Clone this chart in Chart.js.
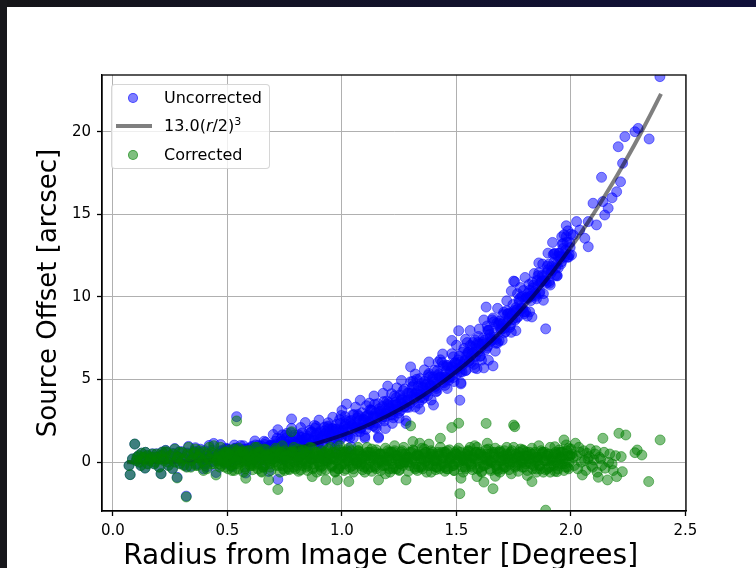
<!DOCTYPE html>
<html>
<head>
<meta charset="utf-8">
<script src="https://cdn.jsdelivr.net/npm/chart.js@4.4.1/dist/chart.umd.min.js"></script>
<style>
  html, body { margin: 0; padding: 0; background: #fff; overflow: hidden; }
  #page { position: relative; width: 756px; height: 568px; overflow: hidden; background: #fff; }
  #topbar { position: absolute; left: 0; top: 0; width: 756px; height: 7px; background: linear-gradient(to right, #151518, #10103a); z-index: 3; }
  #leftbar { position: absolute; left: 0; top: 0; width: 7px; height: 568px; background: #17171b; z-index: 3; }
  #chart { position: absolute; left: 0; top: 0; }
  #legend {
    position: absolute; left: 111px; top: 84px; width: 159px; height: 85px;
    background: rgba(255,255,255,0.8); border: 1px solid rgba(204,204,204,0.8);
    border-radius: 4px; box-sizing: border-box;
    font-family: 'DejaVu Sans', sans-serif; font-size: 16px; color: #000;
  }
  #legend .row { position: absolute; left: 0; width: 100%; height: 20px; }
  #legend .dot { position: absolute; left: 16px; top: 5px; width: 10px; height: 10px; border-radius: 50%; box-sizing: border-box; }
  #legend .bar { position: absolute; left: 4px; top: 8px; width: 36px; height: 4px; background: rgba(0,0,0,0.5); }
  #legend .txt { position: absolute; left: 52px; top: 0; line-height: 20px; white-space: nowrap; }
  #legend sup { font-size: 11px; vertical-align: 6px; line-height: 0; }
</style>
</head>
<body>
<div id="page">
  <canvas id="chart" width="756" height="580"></canvas>
  <div id="legend"></div>
  <div id="topbar"></div>
  <div id="leftbar"></div>
</div>
<script>
// corrected source offsets [radius deg, offset arcsec]
const corrected = [
  [0.07,-0.2],[0.075,-0.75],[0.085,0.2],[0.095,1.1],[0.105,0.3],[0.115,0.0],[0.125,0.55],[0.135,0.2],[0.14,-0.35],[0.15,0.4],
  [0.16,0.1],[0.17,0.3],[0.18,-0.1],[0.19,0.5],[0.2,0.2],[0.21,-0.7],[0.215,0.6],[0.22,0.2],[0.23,0.7],[0.24,0.0],
  [0.25,0.4],[0.26,-0.4],[0.27,0.8],[0.28,-0.95],[0.285,0.3],[0.29,0.6],[0.3,0.1],[0.31,-0.2],[0.32,-2.1],[0.325,0.5],
  [0.33,0.9],[0.34,-0.3],[0.35,0.2],[0.355,0.6],[0.36,0.8],[0.37,-0.2],[0.375,0.3],[0.38,0.5],[0.39,0.0],[0.395,-0.5],
  [0.4,0.6],[0.41,-0.4],[0.415,0.2],[0.42,0.9],[0.43,-0.1],[0.435,0.4],[0.44,1.0],
  [0.102,0.1],[0.112,0.4],[0.122,-0.2],[0.132,0.3],[0.142,0.6],[0.152,-0.1],[0.162,0.2],[0.172,0.5],[0.182,0.0],[0.192,0.3],
  [0.202,-0.3],[0.212,0.4],[0.222,0.1],[0.232,0.6],[0.242,-0.2],[0.252,0.2],[0.262,0.5],[0.272,0.0],[0.282,0.3],[0.292,-0.1],
  [0.302,0.6],[0.312,0.2],[0.322,-0.3],[0.332,0.4],[0.342,0.1],[0.352,0.5],[0.362,-0.2],[0.372,0.3],[0.382,0.7],[0.392,0.1],
  [0.402,-0.2],[0.412,0.4],[0.422,0.2],[0.432,0.6],[0.442,-0.1],
  [0.45,-0.77],[0.46,0.3],[0.47,0.9],[0.48,0.1],[0.49,-0.3],[0.5,0.6],[0.51,0.2],[0.52,-0.5],[0.53,0.8],[0.54,2.5],
  [0.55,0.4],[0.56,0.0],[0.57,0.7],[0.58,-0.97],[0.59,0.5],[0.6,-0.2],[0.61,0.3],[0.62,0.9],[0.63,-0.1],[0.64,0.4],
  [0.65,-0.6],[0.66,0.8],[0.67,0.1],[0.68,-1.07],[0.69,0.5],[0.7,0.2],[0.71,0.7],[0.72,-1.65],[0.73,0.4],[0.74,1.0],
  [0.75,-0.5],[0.76,0.0],[0.77,0.6],[0.78,1.85],[0.79,-0.3],[0.8,0.3],[0.81,0.8],[0.82,-0.47],[0.83,0.1],[0.84,0.5],
  [0.85,-0.2],[0.86,0.9],[0.87,-0.87],[0.88,0.2],[0.89,0.6],[0.9,0.0],[0.91,-0.5],[0.92,0.4],[0.93,-1.07],[0.94,0.8],
  [0.95,0.2],[0.96,0.6],[0.97,-0.6],[0.98,-1.07],[0.99,1.0],[1.0,-0.1],[1.01,0.5],[1.02,0.3],[1.03,-1.17],[1.04,0.7],
  [1.05,-0.4],[1.06,0.1],[1.07,0.9],[1.08,-0.2],[1.09,0.4],[1.1,-0.6],[1.11,0.6],[1.12,0.0],[1.13,0.8],[1.14,0.3],
  [1.15,-0.4],[1.16,-1.07],[1.17,0.5],[1.18,0.1],[1.19,-0.7],[1.2,0.7],[1.21,0.2],[1.22,-0.1],[1.23,1.0],[1.24,0.4],
  [1.25,-0.5],[1.26,0.6],[1.27,0.0],[1.28,-1.07],[1.29,0.3],[1.3,2.2],[1.31,1.25],[1.32,-0.4],[1.33,0.5],[1.34,1.15],
  [1.35,-0.2],[1.36,0.8],[1.37,0.1],[1.38,1.1],[1.39,-0.6],[1.4,0.4],[1.41,-0.3],[1.42,0.6],[1.43,1.45],[1.44,0.0],
  [1.45,-0.3],[1.46,0.7],[1.47,0.2],[1.48,2.1],[1.49,-0.5],[1.5,0.5],[1.51,2.36],[1.515,-1.9],[1.52,-0.97],[1.53,0.1],
  [1.54,-0.4],[1.55,0.6],[1.56,0.9],[1.57,0.3],[1.58,1.0],[1.59,-0.87],[1.6,0.5],[1.61,-0.6],[1.62,-1.2],[1.63,2.35],
  [1.635,1.15],[1.64,0.8],[1.65,0.0],[1.66,-1.6],[1.67,-0.85],[1.68,-0.5],[1.69,0.7],[1.7,0.1],[1.71,-0.3],[1.72,0.9],
  [1.73,0.3],[1.74,-0.7],[1.75,2.25],[1.755,2.15],[1.76,0.5],[1.77,-0.2],[1.78,0.8],[1.79,0.0],[1.8,0.4],[1.81,-0.8],
  [1.82,0.6],[1.83,-1.17],[1.84,0.2],[1.85,-0.4],[1.86,1.0],[1.87,0.3],[1.88,-0.6],[1.89,-2.9],[1.9,0.5],[1.91,-0.6],
  [1.92,0.1],[1.93,0.94],[1.94,-0.57],[1.95,0.6],[1.96,-0.1],[1.97,1.35],[1.98,1.05],[1.99,-0.4],[2.0,0.8],
  [0.455,0.2],[0.465,-0.1],[0.475,0.4],[0.485,0.0],[0.495,0.5],[0.505,0.1],[0.515,-0.2],[0.525,0.3],[0.535,0.6],[0.545,-0.1],
  [0.555,0.2],[0.565,0.5],[0.575,-0.3],[0.585,0.1],[0.595,0.4],[0.605,0.0],[0.615,-0.2],[0.625,0.3],[0.635,0.6],[0.645,0.1],
  [0.655,-0.3],[0.665,0.4],[0.675,0.2],[0.685,-0.1],[0.695,0.5],[0.705,0.0],[0.715,0.3],[0.725,-0.2],[0.735,0.6],[0.745,0.1],
  [0.755,0.4],[0.765,-0.3],[0.775,0.2],[0.785,0.5],[0.795,0.0],[0.805,-0.2],[0.815,0.3],[0.825,0.6],[0.835,0.1],[0.845,-0.3],
  [0.855,0.4],[0.865,0.2],[0.875,-0.1],[0.885,0.5],[0.895,0.0],[0.905,0.3],[0.915,-0.2],[0.925,0.6],[0.935,0.1],[0.945,0.4],
  [0.955,-0.3],[0.965,0.2],[0.975,0.5],[0.985,0.0],[0.995,-0.2],[1.005,0.3],[1.015,0.6],[1.025,0.1],[1.035,-0.3],[1.045,0.4],
  [1.055,0.2],[1.065,-0.1],[1.075,0.5],[1.085,0.0],[1.095,0.3],[1.105,-0.2],[1.115,0.6],[1.125,0.1],[1.135,0.4],[1.145,-0.3],
  [1.155,0.2],[1.165,0.5],[1.175,0.0],[1.185,-0.2],[1.195,0.3],[1.205,0.6],[1.215,0.1],[1.225,-0.3],[1.235,0.4],[1.245,0.2],
  [1.255,-0.1],[1.265,0.5],[1.275,0.0],[1.285,0.3],[1.295,-0.2],[1.305,0.6],[1.315,0.1],[1.325,0.4],[1.335,-0.3],[1.345,0.2],
  [1.355,0.5],[1.365,0.0],[1.375,-0.2],[1.385,0.3],[1.395,0.6],[1.405,0.1],[1.415,-0.3],[1.425,0.4],[1.435,0.2],[1.445,-0.1],
  [1.455,0.5],[1.465,0.0],[1.475,0.3],[1.485,-0.2],[1.495,0.6],[1.505,0.1],[1.515,0.4],[1.525,-0.3],[1.535,0.2],[1.545,0.5],
  [1.555,0.0],[1.565,-0.2],[1.575,0.3],[1.585,0.6],[1.595,0.1],[1.605,-0.3],[1.615,0.4],[1.625,0.2],[1.637,-0.1],[1.645,0.5],
  [1.655,0.0],[1.665,0.3],[1.675,-0.2],[1.685,0.6],[1.695,0.1],[1.705,0.4],[1.715,-0.3],[1.725,0.2],[1.735,0.5],[1.745,0.0],
  [1.757,-0.2],[1.765,0.3],[1.775,0.6],[1.785,0.1],[1.795,-0.3],[1.805,0.4],[1.815,0.2],[1.825,-0.1],[1.835,0.5],[1.845,0.0],
  [1.855,0.3],[1.865,-0.2],[1.875,0.6],[1.885,0.1],[1.895,0.4],[1.905,-0.3],[1.915,0.2],[1.925,0.5],[1.935,0.0],[1.945,-0.2],
  [1.955,0.3],[1.965,0.6],[1.975,0.1],[1.985,-0.3],[1.995,0.4],
  [0.453,0.1],[0.463,0.5],[0.473,-0.2],[0.483,0.3],[0.493,0.6],[0.503,-0.4],[0.513,0.2],[0.523,0.4],[0.533,-0.1],[0.543,0.7],[0.553,0.0],[0.563,0.3],
  [0.573,0.3],[0.583,0.0],[0.593,0.7],[0.603,-0.1],[0.613,0.4],[0.623,0.2],[0.633,-0.4],[0.643,0.6],[0.653,0.3],[0.663,-0.2],[0.673,0.5],[0.683,0.1],
  [0.693,0.1],[0.703,0.5],[0.713,-0.2],[0.723,0.3],[0.733,0.6],[0.743,-0.4],[0.753,0.2],[0.763,0.4],[0.773,-0.1],[0.783,0.7],[0.793,0.0],[0.803,0.3],
  [0.813,0.3],[0.823,0.0],[0.833,0.7],[0.843,-0.1],[0.853,0.4],[0.863,0.2],[0.873,-0.4],[0.883,0.6],[0.893,0.3],[0.903,-0.2],[0.913,0.5],[0.923,0.1],
  [0.933,0.1],[0.943,0.5],[0.953,-0.2],[0.963,0.3],[0.973,0.6],[0.983,-0.4],[0.993,0.2],[1.003,0.4],[1.013,-0.1],[1.023,0.7],[1.033,0.0],[1.043,0.3],
  [1.053,0.3],[1.063,0.0],[1.073,0.7],[1.083,-0.1],[1.093,0.4],[1.103,0.2],[1.113,-0.4],[1.123,0.6],[1.133,0.3],[1.143,-0.2],[1.153,0.5],[1.163,0.1],
  [1.173,0.1],[1.183,0.5],[1.193,-0.2],[1.203,0.3],[1.213,0.6],[1.223,-0.4],[1.233,0.2],[1.243,0.4],[1.253,-0.1],[1.263,0.7],[1.273,0.0],[1.283,0.3],
  [1.293,0.3],[1.303,0.0],[1.313,0.7],[1.323,-0.1],[1.333,0.4],[1.343,0.2],[1.353,-0.4],[1.363,0.6],[1.373,0.3],[1.383,-0.2],[1.393,0.5],[1.403,0.1],
  [1.413,0.1],[1.423,0.5],[1.433,-0.2],[1.443,0.3],[1.453,0.6],[1.463,-0.4],[1.473,0.2],[1.483,0.4],[1.493,-0.1],[1.503,0.7],[1.513,0.0],[1.523,0.3],
  [1.533,0.3],[1.543,0.0],[1.553,0.7],[1.563,-0.1],[1.573,0.4],[1.583,0.2],[1.593,-0.4],[1.603,0.6],[1.613,0.3],[1.623,-0.2],[1.633,0.5],[1.643,0.1],
  [1.653,0.1],[1.663,0.5],[1.673,-0.2],[1.683,0.3],[1.693,0.6],[1.703,-0.4],[1.713,0.2],[1.723,0.4],[1.733,-0.1],[1.743,0.7],[1.753,0.0],[1.763,0.3],
  [1.773,0.3],[1.783,0.0],[1.793,0.7],[1.803,-0.1],[1.813,0.4],[1.823,0.2],[1.833,-0.4],[1.843,0.6],[1.853,0.3],[1.863,-0.2],[1.873,0.5],[1.883,0.1],
  [1.893,0.1],[1.903,0.5],[1.913,-0.2],[1.923,0.3],[1.933,0.6],[1.943,-0.4],[1.953,0.2],[1.963,0.4],[1.973,-0.1],[1.983,0.7],[1.993,0.0],
  [0.457,0.4],[0.467,-0.3],[0.477,0.2],[0.487,0.6],[0.497,0.0],[0.507,0.5],[0.517,-0.2],[0.527,0.3],[0.537,0.1],[0.547,-0.4],[0.557,0.6],
  [0.567,0.6],[0.577,-0.4],[0.587,0.1],[0.597,0.3],[0.607,-0.2],[0.617,0.5],[0.627,0.0],[0.637,0.6],[0.647,0.2],[0.657,-0.3],[0.667,0.4],
  [0.677,0.4],[0.687,-0.3],[0.697,0.2],[0.707,0.6],[0.717,0.0],[0.727,0.5],[0.737,-0.2],[0.747,0.3],[0.757,0.1],[0.767,-0.4],[0.777,0.6],
  [0.787,0.6],[0.797,-0.4],[0.807,0.1],[0.817,0.3],[0.827,-0.2],[0.837,0.5],[0.847,0.0],[0.857,0.6],[0.867,0.2],[0.877,-0.3],[0.887,0.4],
  [0.897,0.4],[0.907,-0.3],[0.917,0.2],[0.927,0.6],[0.937,0.0],[0.947,0.5],[0.957,-0.2],[0.967,0.3],[0.977,0.1],[0.987,-0.4],[0.997,0.6],
  [1.007,0.6],[1.017,-0.4],[1.027,0.1],[1.037,0.3],[1.047,-0.2],[1.057,0.5],[1.067,0.0],[1.077,0.6],[1.087,0.2],[1.097,-0.3],[1.107,0.4],
  [1.117,0.4],[1.127,-0.3],[1.137,0.2],[1.147,0.6],[1.157,0.0],[1.167,0.5],[1.177,-0.2],[1.187,0.3],[1.197,0.1],[1.207,-0.4],[1.217,0.6],
  [1.227,0.6],[1.237,-0.4],[1.247,0.1],[1.257,0.3],[1.267,-0.2],[1.277,0.5],[1.287,0.0],[1.297,0.6],[1.307,0.2],[1.317,-0.3],[1.327,0.4],
  [1.337,0.4],[1.347,-0.3],[1.357,0.2],[1.367,0.6],[1.377,0.0],[1.387,0.5],[1.397,-0.2],[1.407,0.3],[1.417,0.1],[1.427,-0.4],[1.437,0.6],
  [1.447,0.6],[1.457,-0.4],[1.467,0.1],[1.477,0.3],[1.487,-0.2],[1.497,0.5],[1.507,0.0],[1.517,0.6],[1.527,0.2],[1.537,-0.3],[1.547,0.4],
  [1.557,0.4],[1.567,-0.3],[1.577,0.2],[1.587,0.6],[1.597,0.0],[1.607,0.5],[1.617,-0.2],[1.627,0.3],[1.637,0.1],[1.647,-0.4],[1.657,0.6],
  [1.667,0.6],[1.677,-0.4],[1.687,0.1],[1.697,0.3],[1.707,-0.2],[1.717,0.5],[1.727,0.0],[1.737,0.6],[1.747,0.2],[1.757,-0.3],[1.767,0.4],
  [1.777,0.4],[1.787,-0.3],[1.797,0.2],[1.807,0.6],[1.817,0.0],[1.827,0.5],[1.837,-0.2],[1.847,0.3],[1.857,0.1],[1.867,-0.4],[1.877,0.6],
  [1.887,0.6],[1.897,-0.4],[1.907,0.1],[1.917,0.3],[1.927,-0.2],[1.937,0.5],[1.947,0.0],[1.957,0.6],[1.967,0.2],[1.977,-0.3],[1.987,0.4],
  [1.997,0.4],
  [0.51,0.75],[0.53,-0.5],[0.55,0.85],[0.57,-0.6],[0.59,0.7],[0.61,-0.45],[0.63,0.9],[0.65,-0.55],
  [0.67,0.75],[0.69,-0.5],[0.71,0.85],[0.73,-0.6],[0.75,0.7],[0.77,-0.45],[0.79,0.9],[0.81,-0.55],
  [0.83,0.75],[0.85,-0.5],[0.87,0.85],[0.89,-0.6],[0.91,0.7],[0.93,-0.45],[0.95,0.9],[0.97,-0.55],
  [0.99,0.75],[1.01,-0.5],[1.03,0.85],[1.05,-0.6],[1.07,0.7],[1.09,-0.45],[1.11,0.9],[1.13,-0.55],
  [1.15,0.75],[1.17,-0.5],[1.19,0.85],[1.21,-0.6],[1.23,0.7],[1.25,-0.45],[1.27,0.9],[1.29,-0.55],
  [1.31,0.75],[1.33,-0.5],[1.35,0.85],[1.37,-0.6],[1.39,0.7],[1.41,-0.45],[1.43,0.9],[1.45,-0.55],
  [1.47,0.75],[1.49,-0.5],[1.51,0.85],[1.53,-0.6],[1.55,0.7],[1.57,-0.45],[1.59,0.9],[1.61,-0.55],
  [1.63,0.75],[1.65,-0.5],[1.67,0.85],[1.69,-0.6],[1.71,0.7],[1.73,-0.45],[1.75,0.9],[1.77,-0.55],
  [1.79,0.75],[1.81,-0.5],[1.83,0.85],[1.85,-0.6],[1.87,0.7],[1.89,-0.45],[1.91,0.9],[1.93,-0.55],
  [1.95,0.75],[1.97,-0.5],[1.99,0.85],
  [2.005,0.5],[2.015,-0.2],[2.025,0.4],[2.035,0.9],[2.045,0.0],[2.055,0.7],[2.065,-0.5],[2.075,0.2],[2.085,0.8],[2.095,-0.3],
  [2.105,0.5],[2.115,-0.6],[2.125,0.3],[2.135,-0.2],[2.145,0.6],[2.165,0.0],[2.185,-0.5],[2.195,0.4],
  [2.01,0.3],[2.02,1.15],[2.03,-0.4],[2.04,0.6],[2.05,-0.77],[2.06,0.1],[2.07,0.54],[2.08,0.34],[2.09,-0.2],[2.1,0.14],
  [2.11,0.7],[2.12,-0.91],[2.13,0.2],[2.14,1.45],[2.15,-0.36],[2.16,-1.07],[2.17,0.5],[2.18,-0.1],[2.2,-0.87],[2.21,1.75],
  [2.22,0.34],[2.225,-0.57],[2.24,1.65],[2.28,0.58],[2.29,0.74],[2.31,0.44],[2.34,-1.17],[2.39,1.35]
];

// uncorrected source offsets [radius deg, offset arcsec]
const uncorrected = [
  [0.07,-0.2],[0.075,-0.75],[0.085,0.2],[0.095,1.1],[0.105,0.3],[0.115,0.0],[0.125,0.55],[0.135,0.2],[0.14,-0.35],[0.15,0.41],
  [0.16,0.11],[0.17,0.31],[0.18,-0.09],[0.19,0.51],[0.2,0.21],[0.21,-0.69],[0.215,0.62],[0.22,0.22],[0.23,0.72],[0.24,0.02],
  [0.25,0.43],[0.26,-0.37],[0.27,0.83],[0.28,-0.91],[0.285,0.34],[0.29,0.64],[0.3,0.14],[0.31,-0.15],[0.32,-2.05],[0.325,0.56],
  [0.33,0.96],[0.34,-0.24],[0.35,0.27],[0.355,0.67],[0.36,0.88],[0.37,-0.12],[0.375,0.39],[0.38,0.59],[0.39,0.1],[0.395,-0.4],
  [0.4,0.7],[0.41,-0.29],[0.415,0.32],[0.42,1.02],[0.43,0.03],[0.435,0.53],[0.44,1.14],
  [0.102,0.1],[0.112,0.4],[0.122,-0.2],[0.132,0.3],[0.142,0.6],[0.152,-0.09],[0.162,0.21],[0.172,0.51],[0.182,0.01],[0.192,0.31],
  [0.202,-0.29],[0.212,0.42],[0.222,0.12],[0.232,0.62],[0.242,-0.18],[0.252,0.23],[0.262,0.53],[0.272,0.03],[0.282,0.34],[0.292,-0.06],
  [0.302,0.64],[0.312,0.25],[0.322,-0.25],[0.332,0.46],[0.342,0.17],[0.352,0.57],[0.362,-0.12],[0.372,0.38],[0.382,0.79],[0.392,0.2],
  [0.402,-0.09],[0.412,0.51],[0.422,0.32],[0.432,0.73],[0.442,0.04],
  [0.45,-0.62],[0.46,0.46],[0.47,1.07],[0.48,0.28],[0.49,-0.11],[0.5,0.8],[0.51,0.42],[0.52,-0.27],[0.53,1.04],[0.54,2.76],
  [0.55,0.67],[0.56,0.29],[0.57,1.0],[0.58,-0.65],[0.59,0.83],[0.6,0.15],[0.61,0.67],[0.62,1.29],[0.63,0.31],[0.64,0.83],
  [0.65,-0.15],[0.66,1.27],[0.67,0.59],[0.68,-0.56],[0.69,1.03],[0.7,0.76],[0.71,1.28],[0.72,-1.04],[0.73,1.03],[0.74,1.66],
  [0.75,0.19],[0.76,0.71],[0.77,1.34],[0.78,2.62],[0.79,0.5],[0.8,1.13],[0.81,1.66],[0.82,0.43],[0.83,1.03],[0.84,1.46],
  [0.85,0.8],[0.86,1.93],[0.87,0.2],[0.88,1.31],[0.89,1.75],[0.9,1.19],[0.91,0.73],[0.92,1.67],[0.93,0.24],[0.94,2.15],
  [0.95,1.59],[0.96,2.04],[0.97,0.88],[0.98,0.46],[0.99,2.58],[1.0,1.53],[1.01,2.17],[1.02,2.02],[1.03,0.61],[1.04,2.53],
  [1.05,1.48],[1.06,2.04],[1.07,2.89],[1.08,1.85],[1.09,2.5],[1.1,1.56],[1.11,2.82],[1.12,2.28],[1.13,3.15],[1.14,2.71],
  [1.15,2.07],[1.16,1.47],[1.17,3.1],[1.18,2.77],[1.19,2.04],[1.2,3.51],[1.21,3.08],[1.22,2.85],[1.23,4.02],[1.24,3.5],
  [1.25,2.67],[1.26,3.85],[1.27,3.33],[1.28,2.34],[1.29,3.79],[1.3,5.77],[1.31,4.9],[1.32,3.34],[1.33,4.32],[1.34,5.06],
  [1.35,3.8],[1.36,4.89],[1.37,4.28],[1.38,5.37],[1.39,3.76],[1.4,4.86],[1.41,4.26],[1.42,5.25],[1.43,6.2],[1.44,4.85],
  [1.45,4.65],[1.46,5.76],[1.47,5.36],[1.48,7.37],[1.49,4.88],[1.5,5.98],[1.51,7.96],[1.515,3.75],[1.52,4.74],[1.53,5.92],
  [1.54,5.54],[1.55,6.65],[1.56,7.07],[1.57,6.59],[1.58,7.41],[1.59,5.66],[1.6,7.16],[1.61,6.18],[1.62,5.71],[1.63,9.39],
  [1.635,8.25],[1.64,7.97],[1.65,7.3],[1.66,5.83],[1.67,6.72],[1.68,7.21],[1.69,8.54],[1.7,8.08],[1.71,7.83],[1.72,9.17],
  [1.73,8.71],[1.74,7.86],[1.75,10.96],[1.755,10.93],[1.76,9.36],[1.77,8.81],[1.78,9.97],[1.79,9.32],[1.8,9.88],[1.81,8.84],
  [1.82,10.4],[1.83,8.79],[1.84,10.32],[1.85,9.89],[1.86,11.46],[1.87,10.93],[1.88,10.2],[1.89,8.07],[1.9,11.65],[1.91,10.72],
  [1.92,11.6],[1.93,12.62],[1.94,11.3],[1.95,12.65],[1.96,12.14],[1.97,13.77],[1.98,13.66],[1.99,12.41],[2.0,13.8],
  [0.455,0.35],[0.465,0.06],[0.475,0.58],[0.485,0.19],[0.495,0.7],[0.505,0.31],[0.515,0.02],[0.525,0.54],[0.535,0.85],[0.545,0.16],
  [0.555,0.48],[0.565,0.79],[0.575,0.01],[0.585,0.43],[0.595,0.74],[0.605,0.36],[0.615,0.18],[0.625,0.7],[0.635,1.02],[0.645,0.54],
  [0.655,0.16],[0.665,0.88],[0.675,0.7],[0.685,0.42],[0.695,1.05],[0.705,0.57],[0.715,0.9],[0.725,0.42],[0.735,1.25],[0.745,0.77],
  [0.755,1.1],[0.765,0.43],[0.775,0.96],[0.785,1.29],[0.795,0.82],[0.805,0.65],[0.815,1.18],[0.825,1.51],[0.835,1.05],[0.845,0.68],
  [0.855,1.42],[0.865,1.25],[0.875,0.99],[0.885,1.63],[0.895,1.17],[0.905,1.51],[0.915,1.05],[0.925,1.89],[0.935,1.43],[0.945,1.77],
  [0.955,1.12],[0.965,1.66],[0.975,2.01],[0.985,1.55],[0.995,1.4],[1.005,1.95],[1.015,2.3],[1.025,1.85],[1.035,1.5],[1.045,2.26],
  [1.055,2.11],[1.065,1.86],[1.075,2.52],[1.085,2.08],[1.095,2.43],[1.105,1.99],[1.115,2.85],[1.125,2.41],[1.135,2.78],[1.145,2.14],
  [1.155,2.7],[1.165,3.07],[1.175,2.64],[1.185,2.5],[1.195,3.07],[1.205,3.44],[1.215,3.02],[1.225,2.69],[1.235,3.46],[1.245,3.34],
  [1.255,3.11],[1.265,3.79],[1.275,3.37],[1.285,3.75],[1.295,3.33],[1.305,4.21],[1.315,3.8],[1.325,4.18],[1.335,3.57],[1.345,4.15],
  [1.355,4.54],[1.365,4.13],[1.375,4.03],[1.385,4.62],[1.395,5.01],[1.405,4.61],[1.415,4.3],[1.425,5.1],[1.435,5.0],[1.445,4.8],
  [1.455,5.51],[1.465,5.11],[1.475,5.52],[1.485,5.12],[1.495,6.03],[1.505,5.64],[1.515,6.05],[1.525,5.46],[1.535,6.08],[1.545,6.49],
  [1.555,6.11],[1.565,6.03],[1.575,6.65],[1.585,7.07],[1.595,6.69],[1.605,6.42],[1.615,7.25],[1.625,7.17],[1.637,7.03],[1.645,7.73],
  [1.655,7.37],[1.665,7.8],[1.675,7.44],[1.685,8.38],[1.695,8.01],[1.705,8.46],[1.715,7.9],[1.725,8.54],[1.735,8.99],[1.745,8.64],
  [1.757,8.61],[1.765,9.24],[1.775,9.69],[1.785,9.34],[1.795,9.1],[1.805,9.96],[1.815,9.92],[1.825,9.78],[1.835,10.54],[1.845,10.21],
  [1.855,10.67],[1.865,10.34],[1.875,11.31],[1.885,10.99],[1.895,11.46],[1.905,10.94],[1.915,11.61],[1.925,12.09],[1.935,11.77],[1.945,11.76],
  [1.955,12.44],[1.965,12.93],[1.975,12.62],[1.985,12.41],[1.995,13.3],
  [0.453,0.51],[0.463,0.22],[0.473,0.71],[0.483,0.36],[0.493,0.85],[0.503,0.14],[0.513,0.64],[0.523,0.47],[0.533,0.84],[0.543,0.38],[0.553,0.75],[0.563,0.29],[0.573,0.6],
  [0.583,0.68],[0.593,0.39],[0.603,0.89],[0.613,0.55],[0.623,1.05],[0.633,0.35],[0.643,0.85],[0.653,0.69],[0.663,1.07],[0.673,0.61],[0.683,0.99],[0.693,0.53],[0.703,0.99],
  [0.713,1.09],[0.723,0.7],[0.733,1.4],[0.743,0.92],[0.753,1.63],[0.763,0.62],[0.773,1.34],[0.783,1.11],[0.793,1.65],[0.803,1.0],[0.813,1.54],[0.823,0.9],[0.833,1.36],
  [0.843,1.47],[0.853,1.09],[0.863,1.8],[0.873,1.33],[0.883,2.05],[0.893,1.06],[0.903,1.79],[0.913,1.57],[0.923,2.12],[0.933,1.48],[0.943,2.03],[0.953,1.39],[0.963,1.87],
  [0.973,1.99],[0.983,1.62],[0.993,2.35],[1.003,1.93],[1.013,2.77],[1.023,1.62],[1.033,2.48],[1.043,2.23],[1.053,2.88],[1.063,2.14],[1.073,2.79],[1.083,2.05],[1.093,2.6],
  [1.103,2.76],[1.113,2.32],[1.123,3.18],[1.133,2.65],[1.143,3.51],[1.153,2.37],[1.163,3.24],[1.173,3.0],[1.183,3.67],[1.193,2.94],[1.203,3.61],[1.213,2.88],[1.223,3.45],
  [1.233,3.62],[1.243,3.2],[1.253,4.07],[1.263,3.55],[1.273,4.43],[1.283,3.31],[1.293,4.19],[1.303,3.97],[1.313,4.65],[1.323,3.94],[1.333,4.62],[1.343,3.91],[1.353,4.5],
  [1.363,4.69],[1.373,4.28],[1.383,5.17],[1.393,4.66],[1.403,5.56],[1.413,4.46],[1.423,5.35],[1.433,5.15],[1.443,5.85],[1.453,5.15],[1.463,5.86],[1.473,5.16],[1.483,5.77],
  [1.493,5.98],[1.503,5.35],[1.513,6.43],[1.523,5.82],[1.533,6.89],[1.543,5.57],[1.553,6.64],[1.563,6.4],[1.573,7.24],[1.583,6.4],[1.593,7.24],[1.603,6.41],[1.613,7.13],
  [1.623,7.38],[1.633,6.91],[1.643,8.0],[1.653,7.41],[1.663,8.5],[1.673,7.2],[1.683,8.3],[1.693,8.07],[1.703,8.93],[1.713,8.12],[1.723,8.98],[1.733,8.16],[1.743,8.91],
  [1.753,9.18],[1.763,8.73],[1.773,9.84],[1.783,9.28],[1.793,10.39],[1.803,9.11],[1.813,10.23],[1.823,10.03],[1.833,10.91],[1.843,10.11],[1.853,11.0],[1.863,10.21],[1.873,10.98],
  [1.883,11.27],[1.893,10.84],[1.903,11.98],[1.913,11.43],[1.923,12.57],[1.933,11.31],[1.943,12.46],[1.953,12.28],[1.963,13.19],[1.973,12.41],[1.983,13.32],[1.993,12.56],
  [0.457,0.28],[0.467,0.65],[0.477,0.06],[0.487,0.49],[0.497,0.8],[0.507,0.4],[0.517,0.65],[0.527,0.24],[0.537,0.8],[0.547,0.51],[0.557,1.01],
  [0.567,0.42],[0.577,0.8],[0.587,0.21],[0.597,0.65],[0.607,0.97],[0.617,0.57],[0.627,0.83],[0.637,0.43],[0.647,0.99],[0.657,0.71],[0.667,1.21],
  [0.677,0.63],[0.687,1.01],[0.697,0.39],[0.707,1.01],[0.717,1.46],[0.727,0.89],[0.737,1.26],[0.747,0.69],[0.757,1.48],[0.767,1.08],[0.777,1.79],
  [0.787,0.97],[0.797,1.51],[0.807,0.69],[0.817,1.33],[0.827,1.78],[0.837,1.22],[0.847,1.6],[0.857,1.03],[0.867,1.84],[0.877,1.45],[0.887,2.17],
  [0.897,1.36],[0.907,1.91],[0.917,1.1],[0.927,1.74],[0.937,2.2],[0.947,1.65],[0.957,2.04],[0.967,1.48],[0.977,2.3],[0.987,1.92],[0.997,2.83],
  [1.007,1.87],[1.017,2.52],[1.027,1.58],[1.037,2.33],[1.047,2.88],[1.057,2.24],[1.067,2.69],[1.077,2.05],[1.087,3.0],[1.097,2.56],[1.107,3.42],
  [1.117,2.48],[1.127,3.15],[1.137,2.21],[1.147,2.97],[1.157,3.54],[1.167,2.9],[1.177,3.37],[1.187,2.74],[1.197,3.71],[1.207,3.28],[1.217,4.15],
  [1.227,3.22],[1.237,3.9],[1.247,2.97],[1.257,3.75],[1.267,4.33],[1.277,3.71],[1.287,4.19],[1.297,3.57],[1.307,4.55],[1.317,4.14],[1.327,5.02],
  [1.337,4.11],[1.347,4.8],[1.357,3.89],[1.367,4.68],[1.377,5.27],[1.387,4.66],[1.397,5.16],[1.407,4.56],[1.417,5.55],[1.427,5.15],[1.437,6.05],
  [1.447,5.15],[1.457,5.86],[1.467,4.96],[1.477,5.77],[1.487,6.38],[1.497,5.59],[1.507,6.19],[1.517,5.46],[1.527,6.65],[1.537,6.17],[1.547,7.24],
  [1.557,6.16],[1.567,7.0],[1.577,5.92],[1.587,6.88],[1.597,7.61],[1.607,6.89],[1.617,7.5],[1.627,6.79],[1.637,8.0],[1.647,7.53],[1.657,8.62],
  [1.667,7.56],[1.677,8.42],[1.687,7.35],[1.697,8.33],[1.707,9.08],[1.717,8.38],[1.727,9.0],[1.737,8.31],[1.747,9.54],[1.757,9.09],[1.767,10.2],
  [1.777,9.16],[1.787,10.03],[1.797,8.99],[1.807,9.99],[1.817,10.75],[1.827,10.07],[1.837,10.71],[1.847,10.04],[1.857,11.29],[1.867,10.86],[1.877,11.99],
  [1.887,10.96],[1.897,11.86],[1.907,10.83],[1.917,11.85],[1.927,12.63],[1.937,11.98],[1.947,12.64],[1.957,11.99],[1.967,13.25],[1.977,12.84],[1.987,14.0],
  [1.997,12.99],
  [0.7,1.68],[0.72,1.97],[0.74,0.18],[0.76,1.75],[0.78,2.05],[0.8,0.11],[0.82,2.1],[0.84,2.4],[0.86,0.47],[0.88,2.23],
  [0.9,2.55],[0.92,0.47],[0.94,2.39],[0.96,2.72],[0.98,1.05],[1.0,3.13],[1.02,3.52],[1.04,0.93],[1.06,3.34],[1.08,3.75],
  [1.1,1.46],[1.12,3.58],[1.14,4.01],[1.16,1.54],[1.18,4.17],[1.2,4.61],[1.22,2.35],[1.24,4.5],[1.26,4.95],[1.28,2.51],
  [1.3,4.87],[1.32,5.34],[1.34,3.21],[1.36,5.59],[1.38,6.07],[1.4,3.46],[1.42,6.05],[1.44,6.55],[1.46,4.46],[1.48,6.57],
  [1.5,7.08],[1.52,4.81],[1.54,7.44],[1.56,7.97],[1.58,5.71],[1.6,8.06],[1.62,8.61],[1.64,6.17],[1.66,8.73],[1.68,9.31],
  [1.7,7.38],[1.72,9.77],[1.74,10.36],[1.76,7.96],[1.78,10.57],[1.8,11.18],[1.82,9.1],[1.84,11.42],[1.86,12.06],[1.88,9.8],
  [1.9,12.65],[1.92,13.3],[1.94,11.27],[1.96,13.64],[1.98,14.31],
  [2.003,12.54],[2.01,13.75],[2.025,14.56],[2.039,14.05],[2.061,13.55],[2.076,14.56],[2.076,13.04],[2.097,15.67],[2.112,14.36],[2.134,17.24],
  [2.14,15.77],[2.148,14.96],[2.163,15.37],[2.18,16.0],[2.2,16.37],[2.207,19.09],[2.217,16.97],[2.226,18.09],[2.236,19.7],[2.28,20.0],
  [2.294,20.2],[2.342,19.56],[2.389,23.33]
];

// model curve 13.0(r/2)^3
const modelRadius = [0.07,0.1,0.2,0.3,0.4,0.5,0.6,0.7,0.8,0.9,1.0,1.1,1.2,1.3,1.4,1.5,1.6,1.7,1.8,1.9,2.0,2.05,2.1,2.15,2.2,2.25,2.3,2.35,2.39];
const modelOffset = [0.0006,0.0016,0.013,0.044,0.104,0.203,0.351,0.557,0.832,1.185,1.625,2.163,2.808,3.57,4.459,5.484,6.656,7.984,9.477,11.146,13.0,14.0,15.05,16.15,17.3,18.51,19.77,21.09,22.18];

const xTicks = [0, 0.5, 1.0, 1.5, 2.0, 2.5];
const yTicks = [0, 5, 10, 15, 20];

const legendItems = [
  { html: 'Uncorrected', kind: 'dot', color: 'rgba(0,0,255,0.5)' },
  { html: '13.0(<i>r</i>/2)<sup>3</sup>', kind: 'bar' },
  { html: 'Corrected', kind: 'dot', color: 'rgba(0,128,0,0.5)' }
];

Chart.defaults.font.family = "'DejaVu Sans', sans-serif";
Chart.defaults.color = '#000';

const frame = {
  id: 'frame',
  afterDraw(chart) {
    const { ctx, chartArea: a } = chart;
    ctx.save();
    ctx.strokeStyle = '#000';
    ctx.lineWidth = 1.3;
    ctx.strokeRect(a.left, a.top, a.right - a.left, a.bottom - a.top);
    ctx.restore();
  }
};

new Chart(document.getElementById('chart'), {
  type: 'scatter',
  data: {
    datasets: [
      {
        label: 'Corrected',
        data: corrected,
        backgroundColor: 'rgba(0,128,0,0.5)',
        borderColor: 'rgba(0,128,0,0.5)',
        borderWidth: 1,
        pointRadius: 5,
        order: 0
      },
      {
        label: '13.0(r/2)^3',
        type: 'line',
        data: modelRadius.map((r, i) => ({ x: r, y: modelOffset[i] })),
        borderColor: 'rgba(0,0,0,0.5)',
        borderWidth: 4,
        borderCapStyle: 'square',
        pointRadius: 0,
        fill: false,
        cubicInterpolationMode: 'monotone',
        order: 1
      },
      {
        label: 'Uncorrected',
        data: uncorrected,
        backgroundColor: 'rgba(0,0,255,0.5)',
        borderColor: 'rgba(0,0,255,0.5)',
        borderWidth: 1,
        pointRadius: 5,
        order: 2
      }
    ]
  },
  options: {
    responsive: false,
    animation: false,
    devicePixelRatio: 1,
    layout: { padding: { top: 75, right: 70, left: 0, bottom: 0 } },
    plugins: { legend: { display: false }, tooltip: { enabled: false } },
    scales: {
      x: {
        type: 'linear',
        position: 'bottom',
        min: -0.048,
        max: 2.503,
        z: 1,
        afterFit(s) { s.height = 69; },
        afterBuildTicks(s) { s.ticks = xTicks.map(v => ({ value: v })); },
        ticks: { callback: v => Number(v).toFixed(1), font: { size: 15 }, color: '#000', padding: 6, maxRotation: 0 },
        grid: { color: '#b0b0b0', lineWidth: 1, tickColor: '#000', tickLength: 5, tickWidth: 1.3 },
        border: { display: true, color: '#000', width: 1.3 },
        // trailing no-break spaces move the label left, as in the original figure
        title: { display: true, text: 'Radius from Image Center [Degrees]\u00a0\u00a0\u00a0', font: { size: 28 }, color: '#000', padding: { top: 0, bottom: 6 } }
      },
      y: {
        type: 'linear',
        position: 'left',
        min: -2.95,
        max: 23.43,
        z: 1,
        afterFit(s) { s.width = 102; },
        afterBuildTicks(s) { s.ticks = yTicks.map(v => ({ value: v })); },
        ticks: { callback: v => String(v), font: { size: 15 }, color: '#000', padding: 6 },
        grid: { color: '#b0b0b0', lineWidth: 1, tickColor: '#000', tickLength: 5, tickWidth: 1.3 },
        border: { display: true, color: '#000', width: 1.3 },
        title: { display: true, text: 'Source Offset [arcsec]', font: { size: 26 }, color: '#000', padding: { top: 34, bottom: 0 } }
      }
    }
  },
  plugins: [frame]
});

// legend box drawn over the plot, as in the original figure
const legend = document.getElementById('legend');
legendItems.forEach((item, i) => {
  const row = document.createElement('div');
  row.className = 'row';
  row.style.top = (3 + i * 28.3) + 'px';
  const mark = document.createElement('div');
  if (item.kind === 'dot') {
    mark.className = 'dot';
    mark.style.background = item.color;
    mark.style.border = '1px solid ' + item.color;
  } else {
    mark.className = 'bar';
  }
  const txt = document.createElement('div');
  txt.className = 'txt';
  txt.innerHTML = item.html;
  row.appendChild(mark);
  row.appendChild(txt);
  legend.appendChild(row);
});
</script>
</body>
</html>
